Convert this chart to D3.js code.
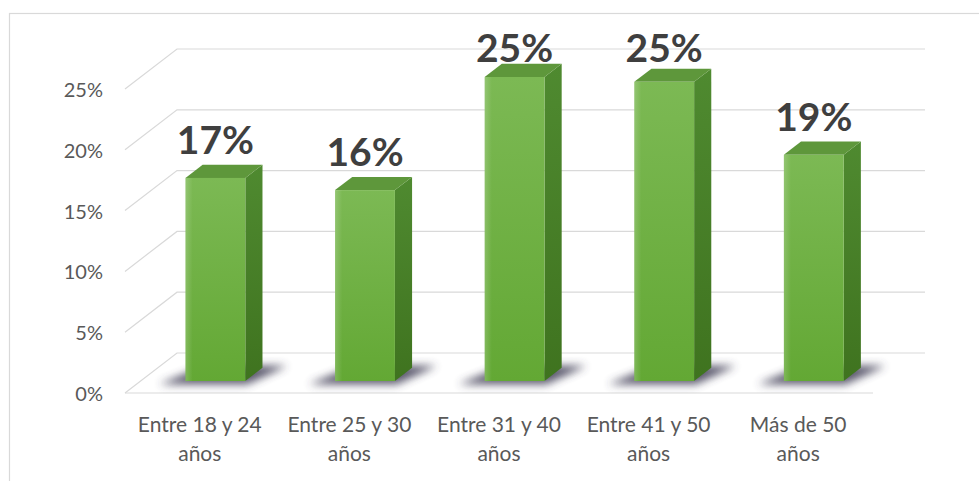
<!DOCTYPE html>
<html>
<head>
<meta charset="utf-8">
<script src="https://cdn.jsdelivr.net/npm/d3@7"></script>
<style>
  html, body { margin: 0; padding: 0; background: #fff; }
  svg { display: block; }
</style>
</head>
<body>
<svg id="chart" width="979" height="481"></svg>
<script>
// Age groups and their share of respondents
const categories = ["Entre 18 y 24 años", "Entre 25 y 30 años", "Entre 31 y 40 años", "Entre 41 y 50 años", "Más de 50 años"];
const shares = [0.167, 0.157, 0.250, 0.246, 0.186];
const tickValues = [0, 0.05, 0.10, 0.15, 0.20, 0.25];

const W = 979, H = 481;
const svg = d3.select("#chart");
const pct = d3.format(".0%");

// oblique 3D projection: depth z in [0,1] shifts right and up
const DX = 52, DY = 40;
const x = d3.scaleBand().domain(categories).range([125, 873]).paddingInner(0).paddingOuter(0);
const y = d3.scaleLinear().domain([0, 0.25]).range([393, 89]);
const P = (px, v, z) => [px + z * DX, y(v) - z * DY];

const zFront = 0.3, zBack = 0.63;
const barW = x.bandwidth() * 0.4;

const defs = svg.append("defs");
const gFront = defs.append("linearGradient").attr("id", "front").attr("x1", 0).attr("y1", 0).attr("x2", 0).attr("y2", 1);
gFront.append("stop").attr("offset", 0).attr("stop-color", "#7cb954");
gFront.append("stop").attr("offset", 1).attr("stop-color", "#63a834");
const gFrontH = defs.append("linearGradient").attr("id", "frontHi").attr("x1", 0).attr("y1", 0).attr("x2", 1).attr("y2", 0);
gFrontH.append("stop").attr("offset", 0).attr("stop-color", "#ffffff").attr("stop-opacity", 0.18);
gFrontH.append("stop").attr("offset", 0.12).attr("stop-color", "#ffffff").attr("stop-opacity", 0);
gFrontH.append("stop").attr("offset", 1).attr("stop-color", "#ffffff").attr("stop-opacity", 0);
const gSide = defs.append("linearGradient").attr("id", "side").attr("x1", 0).attr("y1", 0).attr("x2", 0).attr("y2", 1);
gSide.append("stop").attr("offset", 0).attr("stop-color", "#4f8a30");
gSide.append("stop").attr("offset", 1).attr("stop-color", "#3f731f");
defs.append("filter").attr("id", "soft").attr("x", "-50%").attr("y", "-50%").attr("width", "200%").attr("height", "200%")
  .append("feGaussianBlur").attr("stdDeviation", 4);

// outer frame
svg.append("rect").attr("x", 9.5).attr("y", 13.5).attr("width", 1100).attr("height", 1100)
  .attr("fill", "#fff").attr("stroke", "#d9d9d9").attr("stroke-width", 1.2);

const line = d3.line();
const x0 = x.range()[0], x1 = x.range()[1];

// gridlines: back wall + left side wall
const grid = svg.append("g").attr("stroke", "#d9d9d9").attr("stroke-width", 1.2).attr("fill", "none");
tickValues.forEach(t => {
  grid.append("path").attr("d", line([P(x0, t, 0), P(x0, t, 1), P(x1, t, 1)]));
});
// floor front edge
grid.append("path").attr("d", line([P(x0, 0, 0), P(x1, 0, 0)]));

// y tick labels (front plane)
const yAxis = d3.axisLeft(y).tickValues(tickValues).tickFormat(pct).tickSize(0).tickPadding(0);
const ya = svg.append("g").attr("transform", `translate(${x0 - 22},1)`).call(yAxis);
ya.select(".domain").remove();
ya.selectAll("text").attr("font-family", "Lato, sans-serif").attr("font-size", 20).attr("fill", "#595959");

// bars
const bars = svg.append("g").selectAll("g").data(categories).join("g");
bars.each(function (c, i) {
  const g = d3.select(this);
  const v = shares[i];
  const l = x(c) + (x.bandwidth() - barW) / 2, r = l + barW;
  // floor shadow
  g.append("path")
    .attr("d", line([P(l - 22, 0, zFront - 0.08), P(r + 6, 0, zFront - 0.08), P(r + 22, 0, zBack + 0.05), P(l, 0, zBack + 0.05)]) + "Z")
    .attr("fill", "#3c3a52").attr("opacity", 0.85).attr("filter", "url(#soft)");
  // side face
  g.append("path")
    .attr("d", line([P(r, 0, zFront), P(r, 0, zBack), P(r, v, zBack), P(r, v, zFront)]) + "Z")
    .attr("fill", "url(#side)");
  // top face
  g.append("path")
    .attr("d", line([P(l, v, zFront), P(r, v, zFront), P(r, v, zBack), P(l, v, zBack)]) + "Z")
    .attr("fill", "#5e973b");
  // front face
  const f = [P(l, v, zFront), P(r, 0, zFront)];
  g.append("rect").attr("x", f[0][0]).attr("y", f[0][1]).attr("width", f[1][0] - f[0][0]).attr("height", f[1][1] - f[0][1])
    .attr("fill", "url(#front)");
  g.append("rect").attr("x", f[0][0]).attr("y", f[0][1]).attr("width", f[1][0] - f[0][0]).attr("height", f[1][1] - f[0][1])
    .attr("fill", "url(#frontHi)");
  // value label, kept inside the chart area
  const topBack = P(l, v, zBack)[1];
  g.append("text")
    .attr("x", (l + r) / 2 + zFront * DX)
    .attr("y", Math.max(topBack - 11, 62))
    .attr("text-anchor", "middle")
    .attr("font-family", "Lato, sans-serif").attr("font-weight", 700).attr("font-size", 39)
    .attr("fill", "#3f3f3f")
    .text(pct(v));
});

// category labels, two lines each
const cats = svg.append("g").attr("font-family", "Lato, sans-serif").attr("font-size", 21).attr("fill", "#595959").attr("text-anchor", "middle");
categories.forEach(c => {
  const words = c.split(" ");
  const lines = [words.slice(0, -1).join(" "), words[words.length - 1]];
  const t = cats.append("text").attr("x", x(c) + x.bandwidth() / 2).attr("y", 432);
  lines.forEach((s, k) => t.append("tspan").attr("x", x(c) + x.bandwidth() / 2).attr("dy", k ? 29 : 0).text(s));
});
</script>
</body>
</html>
